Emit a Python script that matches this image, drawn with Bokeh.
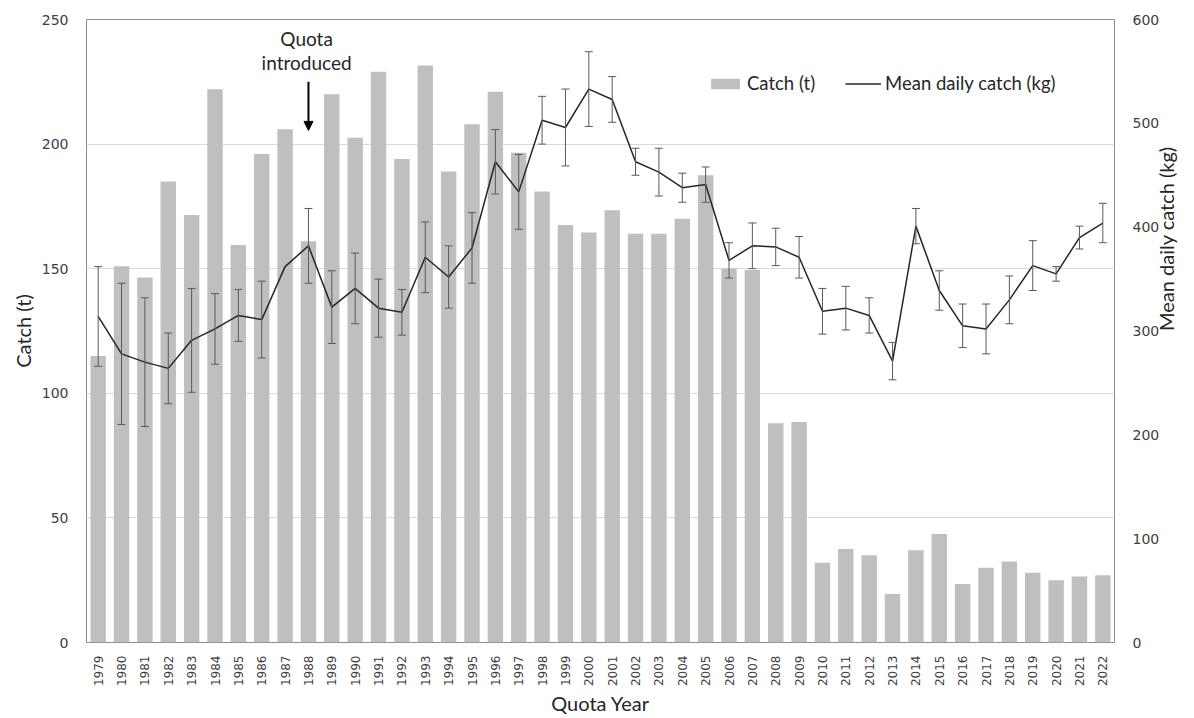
from bokeh.plotting import figure
from bokeh.models import (Range1d, LinearAxis, FixedTicker, ColumnDataSource, Whisker,
                          TeeHead, Arrow, NormalHead, Label)
from bokeh.embed import file_html
from bokeh.resources import INLINE
import math

years = list(range(1979, 2023))
catch_t = [115, 151, 146.5, 185, 171.5, 222, 159.5, 196, 206, 161, 220, 202.5, 229, 194,
           231.5, 189, 208, 221, 196.5, 181, 167.5, 164.5, 173.5, 164, 164, 170, 187.5,
           150, 149.5, 88, 88.5, 32, 37.5, 35, 19.5, 37, 43.5, 23.5, 30, 32.5, 28, 25,
           26.5, 27]
mean_kg = [314, 278, 270, 264, 291, 302, 315, 311, 362, 382, 323, 341, 322, 318, 371,
           352, 380, 463, 434, 503, 496, 533, 523, 463, 453, 438, 441, 368, 382, 381,
           371, 319, 322, 315, 271, 401, 339, 305, 302, 330, 363, 355, 390, 404]
err_kg = [48, 68, 62, 34, 50, 34, 25, 37, None, 36, 35, 34, 28, 22, 34, 30, 34, 31, 36,
          23, 37, 36, 22, 13, 23, 14, 17, 17, 22, 18, 20, 22, 21, 17, 18, 17, 19, 21, 24,
          23, 24, 7, 11, 19]
left_ticks = [0, 50, 100, 150, 200, 250]
right_ticks = [0, 100, 200, 300, 400, 500, 600]
quota_year = 1988

TICK_FONT = "DejaVu Sans"
TITLE_FONT = "Lato"

p = figure(width=1194, height=718, output_backend="svg", toolbar_location=None,
           x_range=Range1d(1978.5, 2022.5), y_range=Range1d(0, 250),
           min_border_left=86, min_border_right=80, min_border_top=19,
           min_border_bottom=75)
p.extra_y_ranges = {"mdc": Range1d(0, 600)}

p.outline_line_color = "#8c8c8c"
p.outline_line_width = 1
p.background_fill_color = "white"
p.border_fill_color = "white"

# bars
p.vbar(x=years, top=catch_t, width=0.66, color="#bfbfbf", line_color=None,
       legend_label="Catch (t)")
# line
p.line(x=years, y=mean_kg, y_range_name="mdc", line_color="#262626", line_width=1.5,
       legend_label="Mean daily catch (kg)")

# error bars
ex = [y for y, e in zip(years, err_kg) if e is not None]
em = [m for m, e in zip(mean_kg, err_kg) if e is not None]
ee = [e for e in err_kg if e is not None]
src = ColumnDataSource(dict(x=ex, upper=[m + e for m, e in zip(em, ee)],
                            lower=[m - e for m, e in zip(em, ee)]))
wh = Whisker(base="x", upper="upper", lower="lower", source=src, y_range_name="mdc",
             line_color="#595959", line_width=1, level="overlay",
             upper_head=TeeHead(size=8, line_color="#595959", line_width=1),
             lower_head=TeeHead(size=8, line_color="#595959", line_width=1))
p.add_layout(wh)


def style_axis(ax, label, size, standoff, label_standoff):
    ax.major_label_text_font = TICK_FONT
    ax.major_label_text_font_size = size
    ax.major_label_text_color = "#404040"
    ax.major_label_standoff = standoff
    ax.axis_label = label
    ax.axis_label_text_font = TITLE_FONT
    ax.axis_label_text_font_size = "20px"
    ax.axis_label_text_font_style = "normal"
    ax.axis_label_text_color = "#262626"
    ax.axis_label_standoff = label_standoff
    ax.axis_line_color = None
    ax.major_tick_line_color = None
    ax.minor_tick_line_color = None
    ax.major_tick_out = 0
    ax.major_tick_in = 0
    ax.minor_tick_out = 0
    ax.minor_tick_in = 0


xa = p.xaxis[0]
xa.ticker = FixedTicker(ticks=years)
xa.major_label_orientation = math.pi / 2
style_axis(xa, "Quota Year", "12px", 13, 2)

ya = p.yaxis[0]
ya.ticker = FixedTicker(ticks=left_ticks)
style_axis(ya, "Catch (t)", "14px", 18, 4)

ra = LinearAxis(y_range_name="mdc", ticker=FixedTicker(ticks=right_ticks))
style_axis(ra, "Mean daily catch (kg)", "14px", 18, 4)
ra.axis_label_orientation = math.pi / 2
p.add_layout(ra, "right")

p.xgrid.grid_line_color = None
p.ygrid.grid_line_color = "#d9d9d9"
p.ygrid.grid_line_width = 1
p.ygrid.ticker = FixedTicker(ticks=left_ticks)

# annotation
p.add_layout(Arrow(end=NormalHead(size=9, fill_color="black", line_color="black"),
                   x_start=quota_year, y_start=225, x_end=quota_year, y_end=205.5,
                   line_color="black", line_width=2))
p.add_layout(Label(x=quota_year - 0.08, y=242.5, text="Quota", text_align="center",
                   text_baseline="middle", text_font=TITLE_FONT, text_font_size="19px",
                   text_color="#262626"))
p.add_layout(Label(x=quota_year - 0.08, y=232.8, text="introduced", text_align="center",
                   text_baseline="middle", text_font=TITLE_FONT, text_font_size="19px",
                   text_color="#262626"))

# legend
lg = p.legend[0]
lg.orientation = "horizontal"
lg.location = (621, 548)
lg.background_fill_alpha = 0
lg.border_line_color = None
lg.padding = 0
lg.margin = 0
lg.spacing = 30
lg.glyph_width = 36
lg.glyph_height = 13
lg.label_standoff = 4
lg.label_text_font = TITLE_FONT
lg.label_text_font_size = "18.5px"
lg.label_text_color = "#262626"

open("out.html", "w").write(file_html(p, INLINE))
